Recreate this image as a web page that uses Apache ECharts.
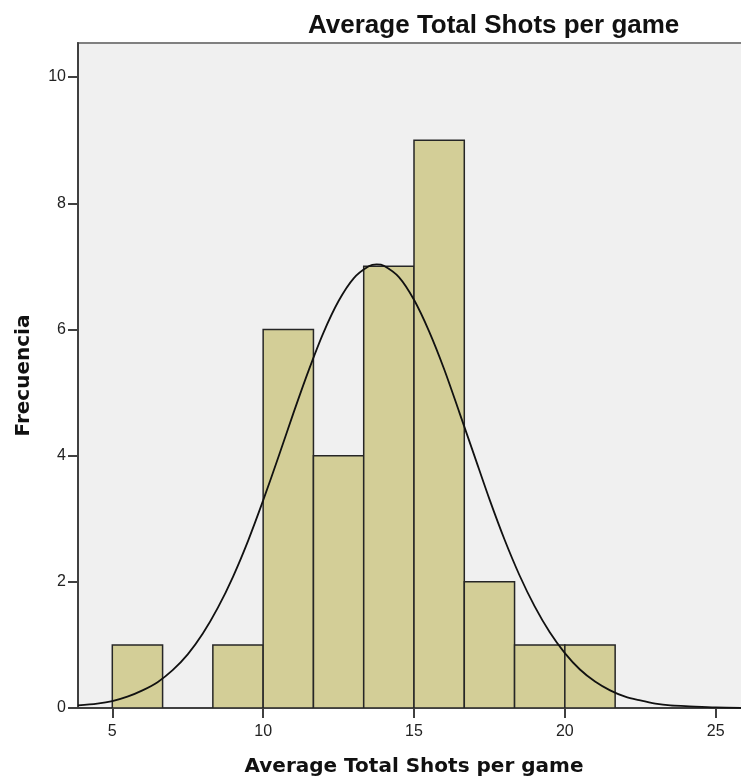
<!DOCTYPE html>
<html>
<head>
<meta charset="utf-8">
<script src="https://cdn.jsdelivr.net/npm/echarts@6/dist/echarts.min.js"></script>
<style>
html,body{margin:0;padding:0;background:#fff;}
#chart{width:741px;height:781px;}
</style>
</head>
<body>
<div id="chart"></div>
<script>
// Histogram bins (lower / upper edges) and frequencies
var binLow  = [5, 6.667, 8.333, 10, 11.667, 13.333, 15, 16.667, 18.333, 20];
var binHigh = [6.667, 8.333, 10, 11.667, 13.333, 15, 16.667, 18.333, 20, 21.667];
var counts  = [1, 0, 1, 6, 4, 7, 9, 2, 1, 1];

// Fitted normal curve
var curveX = [3.86, 4.5, 5, 5.5, 6, 6.5, 7, 7.5, 8, 8.5, 9, 9.5, 10, 10.5, 11, 11.5, 12, 12.5, 13, 13.5, 13.76, 14, 14.5, 15, 15.5, 16, 16.5, 17, 17.5, 18, 18.5, 19, 19.5, 20, 20.5, 21, 21.5, 22, 22.5, 23, 23.5, 24, 25, 26.14];
var curveY = [0.04, 0.07, 0.11, 0.18, 0.28, 0.41, 0.60, 0.85, 1.18, 1.59, 2.08, 2.65, 3.29, 3.97, 4.67, 5.34, 5.95, 6.45, 6.81, 7.00, 7.03, 7.01, 6.83, 6.47, 5.97, 5.37, 4.69, 4.00, 3.31, 2.67, 2.10, 1.61, 1.20, 0.87, 0.61, 0.42, 0.28, 0.18, 0.12, 0.07, 0.04, 0.03, 0.01, 0.00];

// Tick labels
var xTicks = [5, 10, 15, 20, 25];
var yTicks = [0, 2, 4, 6, 8, 10];

var titleText = 'Average Total Shots per game';
var xName = 'Average Total Shots per game';
var yName = 'Frecuencia';

var barData = binLow.map(function (lo, i) { return [lo, binHigh[i], counts[i]]; });
var lineData = curveX.map(function (x, i) { return [x, curveY[i]]; });

var chart = echarts.init(document.getElementById('chart'), null, {renderer: 'canvas'});
chart.setOption({
  animation: false,
  backgroundColor: '#ffffff',
  title: {
    text: titleText,
    left: 303,
    top: 8,
    textStyle: {fontFamily: 'Liberation Sans', fontWeight: 'bold', fontSize: 26, color: '#111'}
  },
  grid: {
    left: 78, right: -9, top: 43, bottom: 73,
    show: true, backgroundColor: '#f0f0f0', borderColor: '#808080', borderWidth: 2,
    containLabel: false, outerBoundsMode: 'none'
  },
  xAxis: {
    type: 'value',
    min: 3.863, max: 26.137,
    name: xName,
    nameLocation: 'middle',
    nameGap: 49,
    nameTextStyle: {fontFamily: 'DejaVu Sans', fontWeight: 'bold', fontSize: 20, color: '#111'},
    axisLine: {show: true, lineStyle: {color: '#404040', width: 2}},
    axisTick: {show: true, length: 10, customValues: xTicks, lineStyle: {color: '#404040', width: 2}},
    axisLabel: {customValues: xTicks, margin: 16, fontFamily: 'Liberation Sans', fontSize: 16, color: '#222'},
    splitLine: {show: false}
  },
  yAxis: {
    type: 'value',
    min: 0, max: 10.54,
    name: yName,
    nameLocation: 'middle',
    nameRotate: 90,
    nameGap: 44,
    nameTextStyle: {fontFamily: 'DejaVu Sans', fontWeight: 'bold', fontSize: 20, color: '#111'},
    axisLine: {show: true, lineStyle: {color: '#404040', width: 2}},
    axisTick: {show: true, length: 10, customValues: yTicks, lineStyle: {color: '#404040', width: 2}},
    axisLabel: {customValues: yTicks, margin: 12, fontFamily: 'Liberation Sans', fontSize: 16, color: '#222'},
    splitLine: {show: false}
  },
  series: [
    {
      type: 'custom',
      data: barData,
      encode: {x: [0, 1], y: 2},
      clip: true,
      z: 2,
      renderItem: function (params, api) {
        var v = api.value(2);
        if (!v) { return null; }
        var p0 = api.coord([api.value(0), 0]);
        var p1 = api.coord([api.value(1), v]);
        return {
          type: 'rect',
          shape: {x: p0[0], y: p1[1], width: p1[0] - p0[0], height: p0[1] - p1[1]},
          style: {fill: '#d3ce97', stroke: '#262626', lineWidth: 1.5}
        };
      }
    },
    {
      type: 'line',
      data: lineData,
      smooth: 0.3,
      symbol: 'none',
      clip: true,
      z: 3,
      lineStyle: {color: '#111', width: 1.8}
    }
  ]
});
</script>
</body>
</html>
